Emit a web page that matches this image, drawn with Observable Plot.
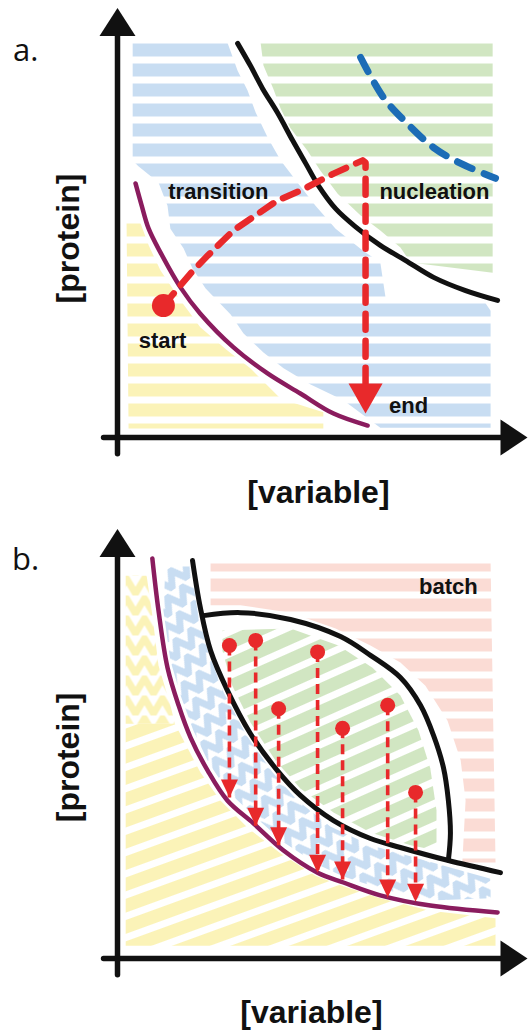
<!DOCTYPE html>
<html><head><meta charset="utf-8">
<script src="https://cdn.jsdelivr.net/npm/d3@7"></script>
<script src="https://cdn.jsdelivr.net/npm/@observablehq/plot@0.6"></script>
<style>
html,body{margin:0;padding:0;background:#fff;overflow:hidden;}
#wrap{width:531px;}
#wrap svg{display:block;}
</style></head><body>
<svg id="defs" width="0" height="0" style="position:absolute"></svg>
<div id="wrap"></div>
<script>
// ---------- Panel a data (abstract units, axes origin = 0,0) ----------
const aNucleationCurve = [[29.3,92.3],[32.4,87.1],[35.4,81.7],[39.0,76.1],[42.7,69.6],[45.9,64.2],[49.0,59.0],[53.2,53.6],[58.0,49.4],[64.1,45.0],[70.2,41.5],[77.1,37.5],[84.9,34.4],[92.7,32.1]];
const aSolubilityCurve = [[4.4,59.5],[5.9,54.3],[7.6,48.9],[10.5,43.3],[15.4,35.1],[20.2,29.0],[28.3,21.1],[36.6,15.0],[44.6,10.3],[52.7,5.6],[61.0,2.8]];
const aMetastableCurve = [[59.3,89.0],[64.9,79.6],[70.7,73.5],[77.1,67.9],[83.7,64.2],[92.2,60.7]];
const aPath = [[11.2,30.9],[17.8,38.4],[22.0,42.6],[28.3,48.5],[39.0,55.5],[44.6,57.8],[52.7,61.8],[59.8,64.9],[60.5,64.4],[60.5,12.2]];
const aStart = [[11.2,30.9]];
const aEnd = [[60.5,5.6]];
const aTransitionRegion = [[3.7,92.5],[26.8,92.5],[29.3,85.9],[31.7,81.3],[33.7,76.1],[36.6,70.3],[39.8,64.9],[43.9,59.7],[48.3,54.3],[53.2,48.9],[59.8,43.8],[64.1,41.0],[65.4,32.6],[89.3,32.1],[91.0,29.7],[91.0,2.3],[64.1,2.3],[55.1,8.7],[47.1,12.4],[40.5,16.2],[35.6,19.9],[30.7,24.4],[27.6,28.8],[21.5,34.9],[18.3,39.6],[16.1,44.3],[12.9,48.9],[12.2,54.3],[10.0,59.7],[5.1,63.5],[3.7,64.9]];
const aNucleationRegion = [[34.9,92.5],[91.5,92.5],[91.5,38.6],[71.5,41.0],[69.0,44.5],[64.1,48.5],[59.3,52.0],[53.7,57.1],[49.5,62.5],[46.3,67.2],[42.2,72.4],[39.8,77.0],[38.0,81.7],[35.6,87.1]];
const aUndersatRegion = [[2.2,51.5],[5.1,51.5],[7.6,45.0],[10.5,39.1],[15.4,32.1],[20.2,25.8],[26.8,20.4],[32.4,16.2],[39.8,9.1],[50.2,5.9],[50.2,2.1],[2.7,2.1]];
const aLabels = [
  {label:"transition", x:24.6, y:57.4},
  {label:"nucleation", x:77.3, y:57.4},
  {label:"start", x:11.0, y:22.7},
  {label:"end", x:71.0, y:7.5}
];
const aPanelLabel = [{label:"a.", x:-22.4, y:90.6}];
const aYLabel = [{label:"[protein]", x:-12.0, y:46.6}];
const aXLabel = [{label:"[variable]", x:49.0, y:-12.9}];

// ---------- Panel b data ----------
const bSolubilityCurve = [[8.5,93.7],[10.0,81.5],[12.2,68.1],[14.9,59.3],[17.8,51.8],[22.0,44.0],[26.8,37.0],[33.2,31.6],[40.5,25.3],[48.8,20.1],[55.1,17.8],[64.1,14.8],[76.3,12.4],[92.7,10.8]];
const bNucleationCurve = [[18.3,93.2],[20.2,82.2],[22.7,72.1],[26.8,62.8],[32.4,52.7],[39.0,44.0],[44.6,38.2],[52.7,32.3],[61.7,28.1],[69.0,26.0],[80.5,23.0],[93.4,20.1]];
const bDomeCurve = [[21.0,80.3],[30.0,81.0],[42.2,79.4],[54.4,75.4],[61.7,71.0],[69.0,65.8],[73.9,59.3],[77.1,52.2],[79.5,44.7],[80.7,37.0],[81.2,29.3],[80.7,23.0]];
const bDropX = [27.3, 33.7, 39.3, 48.8, 54.9, 65.9, 72.7];
const bDropStart = [73.3, 74.5, 58.5, 71.8, 53.9, 59.3, 38.9];
const bDropEnd = [37.7, 31.1, 26.5, 20.1, 18.5, 14.3, 13.3];
const bBatchRegion = [[22.7,92.5],[91.0,92.5],[92.2,22.5],[84.1,22.5],[84.9,37.0],[83.7,46.4],[80.5,55.7],[75.1,63.9],[69.0,69.3],[61.7,73.3],[53.2,77.3],[42.2,81.0],[30.0,82.7],[22.7,82.7]];
const bNucleationRegion = [[25.6,76.8],[42.2,77.3],[53.9,73.3],[62.2,68.1],[69.0,61.6],[73.4,53.4],[76.3,44.5],[77.8,34.7],[77.8,25.3],[71.5,26.5],[61.7,29.5],[52.7,34.2],[44.6,39.8],[38.5,46.4],[32.4,55.3],[28.0,63.9],[25.6,72.1]];
const bTransitionRegion = [[11.7,91.8],[17.8,91.8],[19.5,81.5],[22.0,72.1],[25.9,62.3],[31.5,52.2],[37.8,43.6],[43.9,37.0],[51.9,30.9],[61.7,26.5],[69.0,24.6],[80.5,21.5],[91.0,18.7],[91.0,14.1],[76.3,13.6],[64.1,16.4],[55.1,19.2],[48.8,22.0],[40.5,27.2],[33.2,33.5],[26.8,39.3],[22.2,45.9],[18.5,53.4],[15.4,61.6],[12.9,69.8],[11.2,81.5]];
const bUndersatZigzag = [[2.0,89.7],[7.1,89.7],[8.5,80.3],[10.0,68.6],[12.9,59.3],[14.0,55.0],[2.0,55.0]];
const bUndersatRegion = [[2.0,55.0],[14.0,55.0],[16.1,51.1],[20.2,43.6],[25.1,37.0],[32.0,30.4],[39.8,24.6],[48.3,19.4],[55.1,16.9],[64.1,14.1],[76.3,11.2],[92.2,9.4],[92.2,3.0],[2.0,3.0]];
const bLabels = [{label:"batch", x:80.7, y:86.9}];
const bPanelLabel = [{label:"b.", x:-22.4, y:93.2}];
const bYLabel = [{label:"[protein]", x:-12.0, y:47.1}];
const bXLabel = [{label:"[variable]", x:47.3, y:-12.6}];

// axes (origin and arrow tips)
const axisXLine = [[-3.4,0],[95,0]];
const axisYLine = [[0,-3.8],[0,94]];
const axisXTip = [[100,0]];
const axisYTip = [[0,100.6]];

// ---------- styles ----------
const ink = "#111";
const red = "#e8292b";
const purple = "#8a1c5e";
const dashBlue = "#1c6cb6";
const fills = {blue:"#c8ddf2", green:"#d1e6c2", yellow:"#fbf3b8", pink:"#fbdcd5"};
const sans = "Liberation Sans, Arial, Helvetica, sans-serif";

// patterns imitating crayon strokes
const defs = d3.select("#defs").append("defs");
function stripes(id, color, angle) {
  const p = defs.append("pattern").attr("id", id).attr("width", 60).attr("height", 20)
    .attr("patternUnits", "userSpaceOnUse");
  if (angle) p.attr("patternTransform", `rotate(${angle})`);
  p.append("rect").attr("y", 3).attr("width", 60).attr("height", 13).attr("fill", color);
}
function zigzag(id, color, angle) {
  const p = defs.append("pattern").attr("id", id).attr("width", 18).attr("height", 20)
    .attr("patternUnits", "userSpaceOnUse");
  if (angle) p.attr("patternTransform", `rotate(${angle})`);
  p.append("path").attr("d", "M-9,18 L0,3 L9,18 L18,3 L27,18").attr("fill", "none")
    .attr("stroke", color).attr("stroke-width", 7).attr("stroke-linejoin", "round");
}
stripes("sBlue", fills.blue, 0);
stripes("sGreen", fills.green, 0);
stripes("sYellow", fills.yellow, 0);
stripes("sPink", fills.pink, 0);
stripes("dGreen", fills.green, -24);
stripes("dYellow", fills.yellow, -20);
zigzag("zBlue", fills.blue, -35);
zigzag("zYellow", fills.yellow, 0);

function head(dir, w, h) {
  return {draw(ctx) {
    if (dir === "down") { ctx.moveTo(0,0); ctx.lineTo(-w/2,-h); ctx.lineTo(w/2,-h); }
    else if (dir === "up") { ctx.moveTo(0,0); ctx.lineTo(-w/2,h); ctx.lineTo(w/2,h); }
    else { ctx.moveTo(0,0); ctx.lineTo(-h,-w/2); ctx.lineTo(-h,w/2); }
    ctx.closePath();
  }};
}
const px = d => d[0], py = d => d[1];

function axesMarks(panelLabel, yLabel, xLabel) {
  return [
    Plot.line(axisXLine, {stroke: ink, strokeWidth: 5.5}),
    Plot.line(axisYLine, {stroke: ink, strokeWidth: 5.5}),
    Plot.dot(axisXTip, {x: px, y: py, symbol: head("right", 36, 27), fill: ink, stroke: "none"}),
    Plot.dot(axisYTip, {x: px, y: py, symbol: head("up", 36, 28), fill: ink, stroke: "none"}),
    Plot.text(panelLabel, {x:"x", y:"y", text:"label", fontSize: 31, fontFamily: "Open Sans, sans-serif", fill: ink}),
    Plot.text(yLabel, {x:"x", y:"y", text:"label", rotate: -90, fontSize: 32, fontWeight: "bold", fontFamily: sans, fill: ink}),
    Plot.text(xLabel, {x:"x", y:"y", text:"label", fontSize: 32, fontWeight: "bold", fontFamily: sans, fill: ink})
  ];
}

function panel(marginTop, marginBottom, marks) {
  return Plot.plot({
    width: 531, height: 515,
    marginLeft: 117, marginRight: 4, marginTop, marginBottom,
    x: {domain: [0, 100], axis: null},
    y: {domain: [0, 100], axis: null},
    style: {background: "white", overflow: "visible"},
    marks
  });
}

const chartA = panel(10, 78, [
  Plot.line(aUndersatRegion, {fill: "url(#sYellow)", stroke: "none"}),
  Plot.line(aTransitionRegion, {fill: "url(#sBlue)", stroke: "none"}),
  Plot.line(aNucleationRegion, {fill: "url(#sGreen)", stroke: "none"}),
  Plot.line(aNucleationCurve, {stroke: ink, strokeWidth: 5, curve: "catmull-rom"}),
  Plot.line(aSolubilityCurve, {stroke: purple, strokeWidth: 4.5, curve: "catmull-rom"}),
  Plot.line(aMetastableCurve, {stroke: dashBlue, strokeWidth: 7, strokeDasharray: "16,13", curve: "catmull-rom"}),
  Plot.line(aPath, {stroke: red, strokeWidth: 6.5, strokeDasharray: "16,11", curve: "linear"}),
  Plot.dot(aStart, {x: px, y: py, r: 11.5, fill: red, stroke: "none"}),
  Plot.dot(aEnd, {x: px, y: py, symbol: head("down", 34, 30), fill: red, stroke: "none"}),
  Plot.text(aLabels, {x:"x", y:"y", text:"label", fontSize: 22, fontWeight: "bold", fontFamily: sans, fill: ink}),
  ...axesMarks(aPanelLabel, aYLabel, aXLabel)
]);

const drops = bDropX.map((x, i) => ({x, y1: bDropStart[i], y2: bDropEnd[i]}));
const chartB = panel(16, 72, [
  Plot.line(bUndersatZigzag, {fill: "url(#zYellow)", stroke: "none"}),
  Plot.line(bUndersatRegion, {fill: "url(#dYellow)", stroke: "none"}),
  Plot.line(bTransitionRegion, {fill: "url(#zBlue)", stroke: "none"}),
  Plot.line(bBatchRegion, {fill: "url(#sPink)", stroke: "none"}),
  Plot.line(bNucleationRegion, {fill: "url(#dGreen)", stroke: "none"}),
  Plot.line(bSolubilityCurve, {stroke: purple, strokeWidth: 4.5, curve: "catmull-rom"}),
  Plot.line(bNucleationCurve, {stroke: ink, strokeWidth: 5, curve: "catmull-rom"}),
  Plot.line(bDomeCurve, {stroke: ink, strokeWidth: 5, curve: "catmull-rom"}),
  Plot.link(drops, {x1: "x", x2: "x", y1: "y1", y2: "y2", stroke: red, strokeWidth: 3.6, strokeDasharray: "10,6"}),
  Plot.dot(drops, {x: "x", y: "y1", r: 7.5, fill: red, stroke: "none"}),
  Plot.dot(drops, {x: "x", y: "y2", symbol: head("down", 17, 18), fill: red, stroke: "none"}),
  Plot.text(bLabels, {x:"x", y:"y", text:"label", fontSize: 22, fontWeight: "bold", fontFamily: sans, fill: ink}),
  ...axesMarks(bPanelLabel, bYLabel, bXLabel)
]);

document.getElementById("wrap").append(chartA, chartB);
</script></body></html>
